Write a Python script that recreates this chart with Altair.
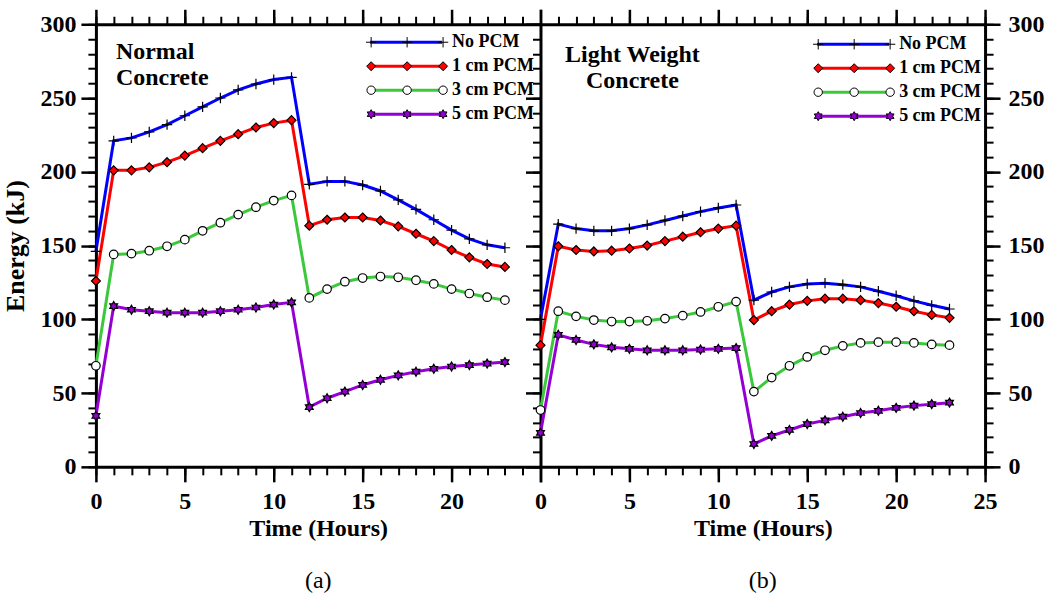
import math
import altair as alt
import pandas as pd

# ---------------- data ----------------
hours = list(range(24))
series_names = ["No PCM", "1 cm PCM", "3 cm PCM", "5 cm PCM"]

# (a) Normal Concrete
nc_no = [146, 221, 223, 227, 232, 238, 244, 250, 255.5, 259.5, 262.5, 264,
         191.5, 193.5, 193.5, 191, 187, 181, 174.5, 167.5, 160.5, 154.5, 150.5, 148.5]
nc_1 = [126, 201, 201, 203, 206.5, 211, 216, 221, 225.5, 230, 233, 235,
        163.5, 167.5, 169, 169, 167, 163, 158, 153, 147, 142, 137.5, 135.5]
nc_3 = [68.5, 144, 144.5, 146.5, 149.5, 154, 160, 165.5, 171, 176, 180.5, 184,
        114.5, 120.5, 125.5, 128, 129, 128.5, 126.5, 124, 120.5, 117.5, 115, 113]
nc_5 = [34.5, 109, 106.5, 105.5, 104.5, 104.5, 104.5, 105.5, 106.5, 108, 110, 111.5,
        40.5, 46.5, 51, 55.5, 59, 62, 64.5, 66.5, 68, 69, 70, 71]

# (b) Light Weight Concrete
lw_no = [100, 164.5, 161.5, 160, 160, 161.5, 164, 167, 170, 173, 175.5, 177.5,
         113, 118.5, 122, 124, 124.5, 123.5, 122, 119, 116, 112.5, 109.5, 107]
lw_1 = [82.5, 149.5, 147, 146, 146.5, 148, 150, 153, 156, 159, 161.5, 163.5,
        99.5, 105.5, 110, 112.5, 114, 114, 113, 111, 108.5, 105.5, 103, 101]
lw_3 = [38.5, 105.5, 102, 99.5, 98.5, 98.5, 99, 100.5, 102.5, 105, 108.5, 112,
        51, 60.5, 68.5, 74.5, 79, 82, 84, 84.5, 84.5, 84, 83, 82.5]
lw_5 = [23, 89.5, 86, 83, 81, 80, 79, 79, 79, 79.5, 80, 80.5,
        15.5, 21, 25, 29, 31.5, 34, 36.5, 38, 40, 41.5, 42.5, 43.5]

x_major = [0, 5, 10, 15, 20, 25]
x_minor = list(range(0, 26))
y_major = list(range(0, 301, 50))
y_minor = list(range(0, 301, 10))

panel_labels = ["(a)", "(b)"]
panel_notes = [["Normal", "Concrete"], ["Light Weight", "Concrete"]]
x_title = "Time (Hours)"
y_title = "Energy (kJ)"

# ---------------- styles ----------------
line_colors = ["#0000FF", "#FF0000", "#3CC83C", "#9400D3"]
marker_fills = ["transparent", "#FF0000", "#FFFFFF", "#9400D3"]
marker_strokes = ["black", "black", "black", "black"]
FONT = "Liberation Serif"


def cross(cx, s):
    return f"M{cx - s:.3f},0H{cx + s:.3f}M{cx:.3f},{-s:.3f}V{s:.3f}"


def diamond(cx, s):
    return f"M{cx:.3f},{-s:.3f}L{cx + s:.3f},0L{cx:.3f},{s:.3f}L{cx - s:.3f},0Z"


def circle(cx, s):
    return (f"M{cx - s:.3f},0A{s:.3f},{s:.3f},0,1,0,{cx + s:.3f},0"
            f"A{s:.3f},{s:.3f},0,1,0,{cx - s:.3f},0Z")


def star(cx, s):
    pts = []
    for k in range(12):
        ang = math.radians(-90 + 30 * k)
        r = s if k % 2 == 0 else s * 0.577
        pts.append(f"{cx + r * math.cos(ang):.3f},{r * math.sin(ang):.3f}")
    return "M" + "L".join(pts) + "Z"


# plot markers (size 81 -> 4.5 px per unit)
plot_shapes = [cross(0, 1.15), diamond(0, 1.0), circle(0, 0.95), star(0, 1.0)]
# legend symbols (size 144 -> 6 px per unit), line spans -6..6 (72 px)
LU = 6.0


def triple(fn, s):
    return "".join(fn(c, s) for c in (-6, 0, 6))


legend_shapes = [triple(cross, 5.2 / LU), triple(diamond, 4.5 / LU),
                 triple(circle, 4.2 / LU), triple(star, 4.5 / LU)]
legend_line = "M-6,0H6"


def build_df(cols):
    rows = []
    for name, vals in zip(series_names, cols):
        for h, v in zip(hours, vals):
            rows.append({"hour": h, "energy": v, "series": name, "m": name})
    return pd.DataFrame(rows)


xscale = alt.Scale(domain=[0, 25], nice=False, zero=False)
yscale = alt.Scale(domain=[0, 300], nice=False)


def axis(orient, values, size, width, labels=False, domain=False, title=None,
         title_size=24, **kw):
    return alt.Axis(orient=orient, values=values, tickSize=size, tickWidth=width,
                    tickColor="black", labels=labels, domain=domain, domainWidth=3,
                    domainColor="black", title=title, grid=False, labelFlush=False,
                    labelOverlap=False, labelFont=FONT, labelFontSize=24,
                    labelFontWeight="bold", labelColor="black", titleFont=FONT,
                    titleFontSize=title_size, titleFontWeight="bold", titleColor="black",
                    **kw)


def panel(df, idx, lx, ly, note_x, note_y, note_align):
    base = alt.Chart(df)
    left = idx == 0
    # x axes
    xb_major = axis("bottom", x_major, 15, 2.5, labels=True, domain=True, title=x_title,
                    labelPadding=8, titlePadding=3,
                    labelExpr="datum.value == 25 ? '' : datum.label" if left else "datum.label")
    xb_minor = axis("bottom", x_minor, 8, 2)
    xt_major = axis("top", x_major, 15, 2.5, domain=True)
    xt_minor = axis("top", x_minor, 8, 2)
    if left:
        y_main = axis("left", y_major, 15, 2.5, labels=True, domain=True, title=y_title,
                      title_size=26, labelPadding=5, titlePadding=11)
        y_main_minor = axis("left", y_minor, 8, 2)
        y_other = None
        y_other_minor = None
    else:
        y_main = axis("right", y_major, 15, 2.5, labels=True, domain=True, labelPadding=8)
        y_main_minor = axis("right", y_minor, 8, 2)
        y_other = axis("left", y_major, 15, 2.5, domain=True)
        y_other_minor = axis("left", y_minor, 8, 2)

    common_leg = dict(orient="none", title=None, symbolSize=144, labelFont=FONT,
                      labelFontSize=18, labelFontWeight="bold", labelColor="black",
                      labelLimit=400, rowPadding=6, padding=0)
    legA = alt.Legend(legendX=lx, legendY=ly, symbolType=legend_line, symbolStrokeWidth=3,
                      labelOffset=37, zindex=1, **common_leg)
    legB = alt.Legend(legendX=lx + 1, legendY=ly, symbolStrokeWidth=1,
                      symbolOpacity=1, labelExpr="' '",
                      labelOffset=39, zindex=2, **common_leg)

    lines = base.mark_line(strokeWidth=3).encode(
        x=alt.X("hour:Q", scale=xscale, axis=xb_major),
        y=alt.Y("energy:Q", scale=yscale, axis=y_main),
        stroke=alt.Stroke("series:N", scale=alt.Scale(domain=series_names, range=line_colors),
                          legend=legA),
    )
    pts = base.mark_point(filled=True, size=81, stroke="black", strokeWidth=1.2,
                          opacity=1).encode(
        x=alt.X("hour:Q", scale=xscale, axis=xb_minor),
        y=alt.Y("energy:Q", scale=yscale, axis=y_main_minor),
        shape=alt.Shape("series:N", scale=alt.Scale(domain=series_names, range=plot_shapes),
                        legend=None),
        fill=alt.Fill("series:N", scale=alt.Scale(domain=series_names, range=marker_fills),
                      legend=None),
    )
    leg = base.mark_point(filled=True, size=81, strokeWidth=1, opacity=0).encode(
        x=alt.X("hour:Q", scale=xscale, axis=xt_major),
        y=alt.Y("energy:Q", scale=yscale, axis=y_other),
        shape=alt.Shape("m:N", scale=alt.Scale(domain=series_names, range=legend_shapes),
                        legend=legB),
        fill=alt.Fill("m:N", scale=alt.Scale(domain=series_names, range=marker_fills),
                      legend=legB),
        stroke=alt.Stroke("m:N", scale=alt.Scale(domain=series_names, range=marker_strokes),
                          legend=legB),
    )
    axl = base.mark_point(opacity=0).encode(
        x=alt.X("hour:Q", scale=xscale, axis=xt_minor),
        y=alt.Y("energy:Q", scale=yscale, axis=y_other_minor),
    )
    txt = alt.Chart(pd.DataFrame({"k": [0]})).mark_text(
        text=panel_notes[idx], font=FONT, fontSize=24, fontWeight="bold", color="black",
        align=note_align, baseline="alphabetic", lineHeight=26,
    ).encode(x=alt.value(note_x), y=alt.value(note_y))

    return alt.layer(lines, pts, leg, axl, txt).resolve_scale(
        shape="independent", fill="independent", stroke="independent"
    ).resolve_axis(x="independent", y="independent").properties(
        width=445, height=443,
        title=alt.TitleParams(text=panel_labels[idx], orient="bottom", anchor="middle",
                              frame="group", font=FONT, fontSize=24, fontWeight="normal",
                              color="black", offset=28),
    )


pa = panel(build_df([nc_no, nc_1, nc_3, nc_5]), 0, 301.5, 9, 20, 35, "left")
pb = panel(build_df([lw_no, lw_1, lw_3, lw_5]), 1, 304, 11, 92, 38, "center")

chart = alt.hconcat(pa, pb, spacing=0, bounds="flush").resolve_scale(
    x="independent", y="independent", stroke="independent", shape="independent",
    fill="independent"
).resolve_legend(
    stroke="independent", shape="independent", fill="independent"
).properties(
    padding={"left": 2, "top": 7, "right": 5, "bottom": 3},
    background="white",
).configure_view(stroke="transparent")

chart.save("out.html", embed_options={"renderer": "svg", "actions": False})
